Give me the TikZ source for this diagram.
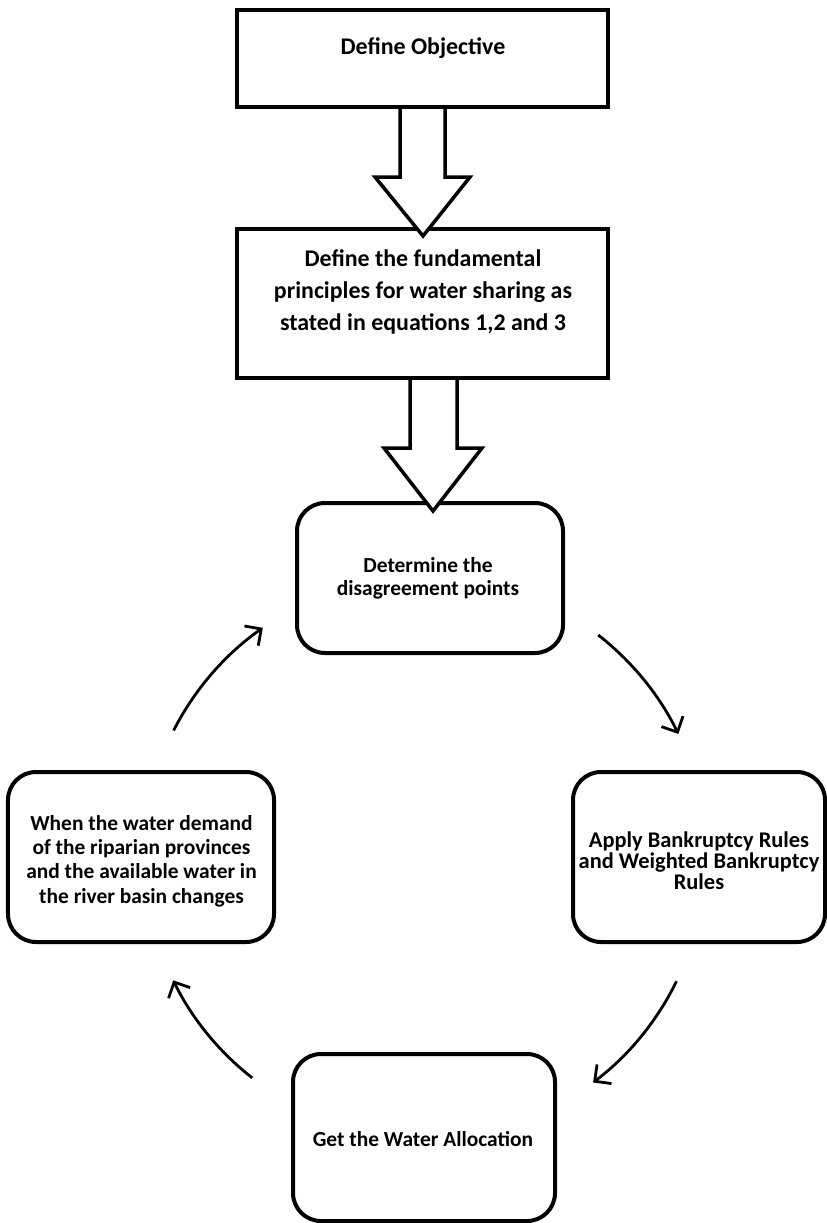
\documentclass[tikz,border=0pt]{standalone}
\usepackage{fontspec}
\setmainfont{Carlito}
\usetikzlibrary{arrows.meta,calc}
\begin{document}
\begin{tikzpicture}[x=1bp,y=1bp,
  sqbox/.style={draw, line width=4bp, rectangle, inner sep=0pt},
  rbox/.style={draw, line width=4bp, rectangle, rounded corners=28bp, inner sep=0pt},
  bigtxt/.style={font=\fontsize{24}{32}\selectfont\bfseries, align=center, inner sep=0pt},
  smtxt/.style={font=\fontsize{21.5}{#1}\selectfont\bfseries, align=center, inner sep=0pt},
  midtxt/.style={font=\fontsize{22.5}{#1}\selectfont\bfseries, align=center, inner sep=0pt},
  blockarrow/.style={draw, line width=3.5bp, line join=miter, fill=white},
  cycarrow/.style={draw, line width=2.8bp, -{Straight Barb[length=12bp,width=24bp,line width=2.8bp]}}]
\useasboundingbox (0,0) rectangle (827,-1223);
% boxes
\node[sqbox, minimum width=371bp, minimum height=97bp] (b1) at (422.5,-58.5) {};
\node[sqbox, minimum width=371bp, minimum height=149bp] (b2) at (422.5,-303.5) {};
\node[rbox, minimum width=266bp, minimum height=150bp] (b3) at (430,-578) {};
\node[rbox, minimum width=252bp, minimum height=170bp] (b4) at (699,-857) {};
\node[rbox, minimum width=262bp, minimum height=167bp] (b5) at (424,-1137.5) {};
\node[rbox, minimum width=266bp, minimum height=170bp] (b6) at (141,-857) {};
% texts
\node[bigtxt, anchor=base] (t1) at (423,-54) {Define Objective};
\node[bigtxt] (t2) at (423,-292) {Define the fundamental\\principles for water sharing as\\stated in equations 1,2 and 3};
\node[smtxt=23] (t3) at (428,-578) {Determine the\\disagreement points};
\node[midtxt=21] (t4) at (699,-861) {Apply Bankruptcy Rules\\and Weighted Bankruptcy\\Rules};
\node[smtxt=24.5] (t6) at (141.5,-861) {When the water demand\\of the riparian provinces\\and the available water in\\the river basin changes};
\node[smtxt=24, anchor=base] (t5) at (423,-1146) {Get the Water Allocation};
% block arrows
\draw[blockarrow] ($(b1.south)+(-22.5,0)$) -- ++(0,-68) -- ++(-25,0) -- ($(b2.north)+(0.5,-9)$)
  -- ($(b1.south)+(47.5,-68)$) -- ++(-25,0) -- ($(b1.south)+(22.5,0)$);
\draw[blockarrow] ($(b2.south)+(-12.5,0)$) -- ++(0,-68) -- ++(-26,0) -- ($(b3.north)+(3,-10)$)
  -- ($(b2.south)+(59.5,-68)$) -- ++(-25,0) -- ($(b2.south)+(34.5,0)$);
% cycle arrows
\coordinate (ctr) at (424,-858);
\coordinate (a1) at ($(ctr)+(153:281)$);
\coordinate (a2) at ($(ctr)+(52:283)$);
\coordinate (a3) at ($(ctr)+(-26:281)$);
\coordinate (a4) at ($(ctr)+(-128:279)$);
\draw[cycarrow] (a1) arc[start angle=153, end angle=125, radius=281];
\draw[cycarrow] (a2) arc[start angle=52, end angle=26, radius=283];
\draw[cycarrow] (a3) arc[start angle=-26, end angle=-53, radius=281];
\draw[cycarrow] (a4) arc[start angle=-128, end angle=-154, radius=279];
\end{tikzpicture}
\end{document}
